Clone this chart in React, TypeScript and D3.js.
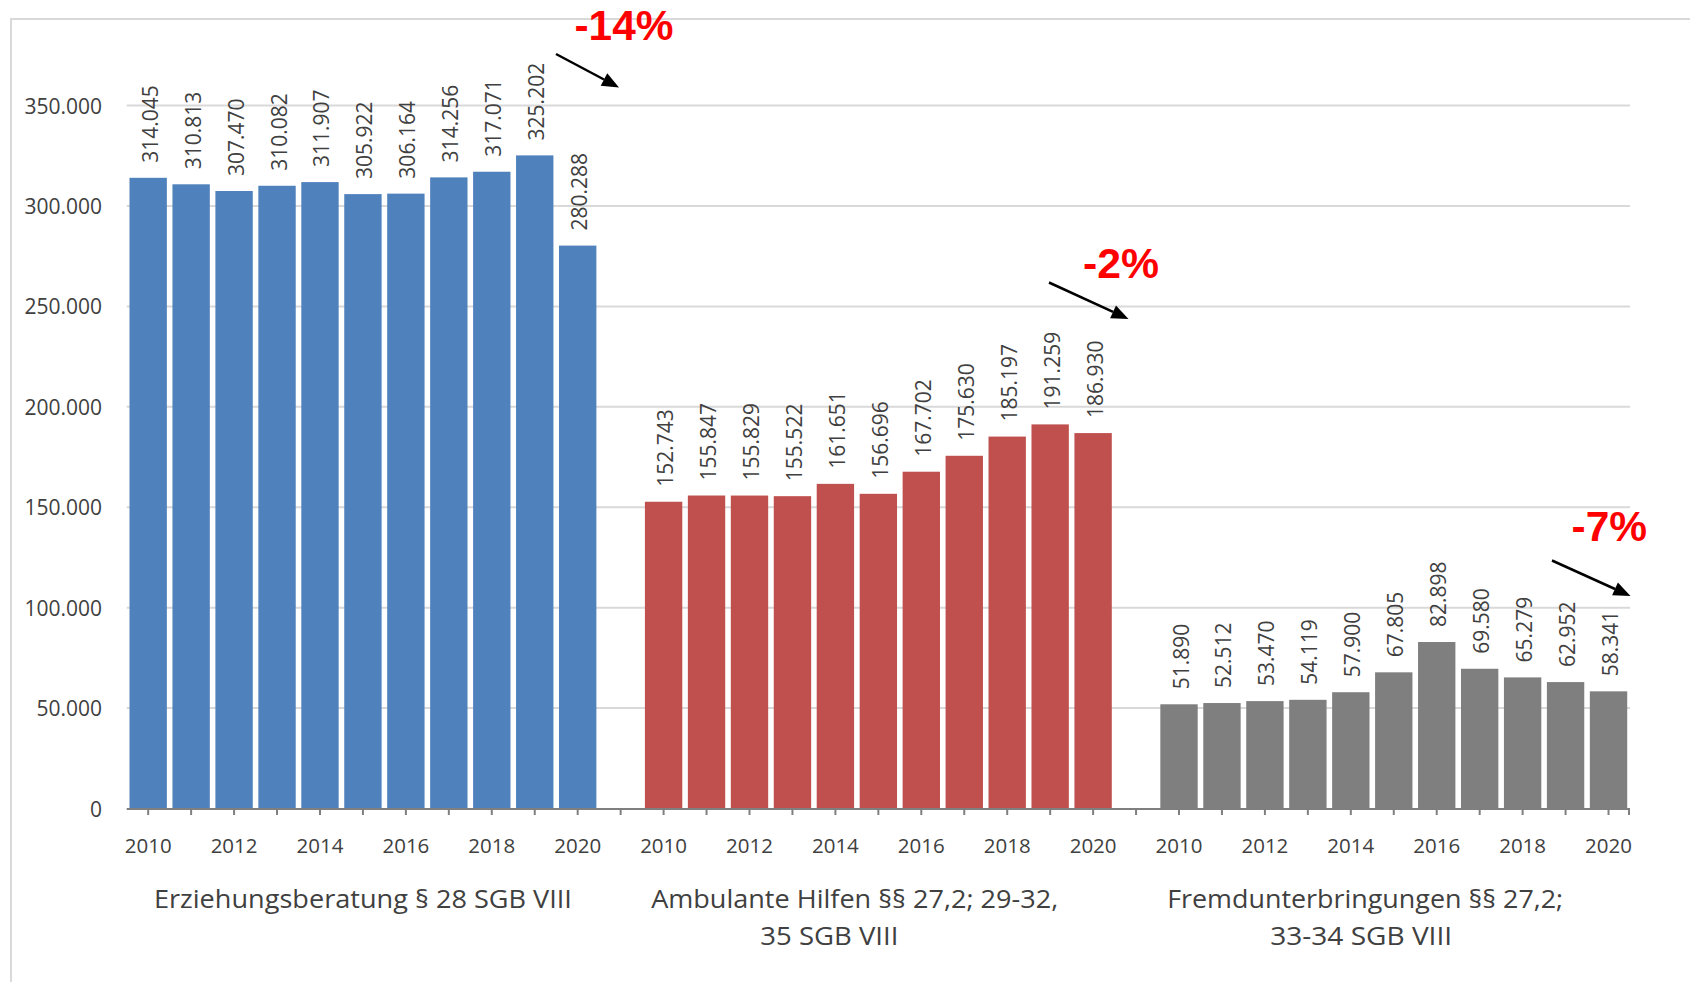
import React from "react";
import * as d3 from "d3";

// ---------- data ----------
const years = ["2010", "2011", "2012", "2013", "2014", "2015", "2016", "2017", "2018", "2019", "2020"];
const groupNames = ["Erziehungsberatung", "Ambulante Hilfen", "Fremdunterbringungen"];
const groupLabelLines = [
  ["Erziehungsberatung § 28 SGB VIII"],
  ["Ambulante Hilfen §§ 27,2; 29-32,", "35 SGB VIII"],
  ["Fremdunterbringungen §§ 27,2;", "33-34 SGB VIII"],
];
const erziehungsberatung = [314045, 310813, 307470, 310082, 311907, 305922, 306164, 314256, 317071, 325202, 280288];
const ambulanteHilfen = [152743, 155847, 155829, 155522, 161651, 156696, 167702, 175630, 185197, 191259, 186930];
const fremdunterbringungen = [51890, 52512, 53470, 54119, 57900, 67805, 82898, 69580, 65279, 62952, 58341];
const seriesValues = [erziehungsberatung, ambulanteHilfen, fremdunterbringungen];
const yTicks = [0, 50000, 100000, 150000, 200000, 250000, 300000, 350000];
const changeLabels = ["-14%", "-2%", "-7%"];

// ---------- styles ----------
const colors = ["#4F81BD", "#C0504D", "#7F7F7F"];
const W = 1690;
const H = 982;
const FONT = "'Open Sans', 'Noto Sans', sans-serif";
const TEXT = "#404040";

const locale = d3.formatLocale({ decimal: ",", thousands: ".", grouping: [3], currency: ["", "€"] });
const fmt = locale.format(",");

export default function App() {
  const xLeft = 126.7;
  const xRight = 1630;
  const nSlots = years.length * 3 + 2;
  const x = d3
    .scaleBand<number>()
    .domain(d3.range(nSlots))
    .range([xLeft, xRight])
    .paddingInner(0.13)
    .paddingOuter(0.065);
  const bw = x.bandwidth();
  const y = d3.scaleLinear().domain([0, 350000]).range([808.5, 105.6]);
  const slotOf = (g: number, i: number) => g * (years.length + 1) + i;
  const cx = (s: number) => (x(s) as number) + bw / 2;

  // label layout (offsets of the text boxes relative to group centres)
  const labelDx = [
    [0],
    [-23.7, -49],
    [-28.6, -32.6],
  ];
  const labelWidths = [
    [418],
    [407, 138],
    [396, 182],
  ];
  const labelBase = [908, 945];

  // annotation layout
  const annot = [
    { tx: 574.5, ty: 40, tw: 99, a: [556, 54], b: [619, 87.5] },
    { tx: 1083, ty: 278, tw: 76, a: [1049, 282.5], b: [1128.5, 319] },
    { tx: 1571.5, ty: 541, tw: 75.5, a: [1552, 560.5], b: [1630.5, 596] },
  ];

  const valueFs = 21;

  return (
    <svg
      width={W}
      height={H}
      style={{ position: "absolute", left: 0, top: 0, background: "#fff" }}
      fontFamily={FONT}
    >
      <rect x={0} y={0} width={W} height={H} fill="#fff" />
      {/* frame */}
      <rect x={11} y={19} width={W + 50} height={H + 50} fill="none" stroke="#D9D9D9" strokeWidth={2} />

      {/* gridlines */}
      {yTicks
        .filter((t) => t > 0)
        .map((t) => (
          <line key={t} x1={xLeft} x2={xRight} y1={y(t)} y2={y(t)} stroke="#D9D9D9" strokeWidth={2} />
        ))}

      {/* y labels */}
      {yTicks.map((t) => (
        <text
          key={"yl" + t}
          x={102}
          y={y(t)}
          textAnchor="end"
          dominantBaseline="central"
          fontSize={21}
          fill={TEXT}
        >
          {fmt(t)}
        </text>
      ))}

      {/* bars */}
      {seriesValues.map((vals, g) =>
        vals.map((v, i) => {
          const s = slotOf(g, i);
          return (
            <rect
              key={groupNames[g] + years[i]}
              x={x(s)}
              y={y(v)}
              width={bw}
              height={y(0) - y(v)}
              fill={colors[g]}
            />
          );
        })
      )}

      {/* value labels */}
      {seriesValues.map((vals, g) =>
        vals.map((v, i) => {
          const s = slotOf(g, i);
          const px = cx(s) + 0.357 * valueFs + 2;
          const py = y(v) - 15;
          return (
            <text
              key={"vl" + g + "-" + i}
              transform={`translate(${px},${py}) rotate(-90)`}
              fontSize={valueFs}
              fill={TEXT}
            >
              {fmt(v)}
            </text>
          );
        })
      )}

      {/* x axis */}
      <line x1={xLeft} x2={xRight} y1={y(0) + 0.5} y2={y(0) + 0.5} stroke="#7F7F7F" strokeWidth={2} />
      {d3.range(nSlots).map((s) => (
        <line key={"tk" + s} x1={cx(s)} x2={cx(s)} y1={y(0)} y2={y(0) + 6.5} stroke="#7F7F7F" strokeWidth={2} />
      ))}
      <line x1={xRight - 1} x2={xRight - 1} y1={y(0)} y2={y(0) + 6.5} stroke="#7F7F7F" strokeWidth={2} />

      {/* year labels */}
      {seriesValues.map((_, g) =>
        years.map((yr, i) =>
          i % 2 === 0 ? (
            <text
              key={"yr" + g + yr}
              x={cx(slotOf(g, i))}
              y={852.5}
              textAnchor="middle"
              fontSize={20.5}
              fill={TEXT}
            >
              {yr}
            </text>
          ) : null
        )
      )}

      {/* group labels */}
      {groupLabelLines.map((lines, g) => {
        const center = cx(slotOf(g, 5));
        return lines.map((ln, li) => (
          <text
            key={"gl" + g + li}
            x={center + labelDx[g][li]}
            y={labelBase[li]}
            textAnchor="middle"
            fontSize={26}
            fill={TEXT}
            textLength={labelWidths[g][li]}
            lengthAdjust="spacingAndGlyphs"
          >
            {ln}
          </text>
        ));
      })}

      {/* annotations */}
      {annot.map((a, k) => {
        const [x1, y1] = a.a;
        const [x2, y2] = a.b;
        const dx = x2 - x1;
        const dy = y2 - y1;
        const len = Math.hypot(dx, dy);
        const ux = dx / len;
        const uy = dy / len;
        const hl = 17;
        const hw = 7;
        const bx = x2 - ux * hl;
        const by = y2 - uy * hl;
        const pts = [
          [x2, y2],
          [bx - uy * hw, by + ux * hw],
          [bx + uy * hw, by - ux * hw],
        ];
        return (
          <g key={"an" + k}>
            <text
              x={a.tx}
              y={a.ty}
              fontFamily="'Liberation Sans', Arial, sans-serif"
              fontWeight="bold"
              fontSize={42}
              fill="#FF0000"
              textLength={a.tw}
              lengthAdjust="spacingAndGlyphs"
            >
              {changeLabels[k]}
            </text>
            <line x1={x1} y1={y1} x2={bx} y2={by} stroke="#000" strokeWidth={2.5} />
            <polygon points={pts.map((p) => p.join(",")).join(" ")} fill="#000" />
          </g>
        );
      })}
    </svg>
  );
}
